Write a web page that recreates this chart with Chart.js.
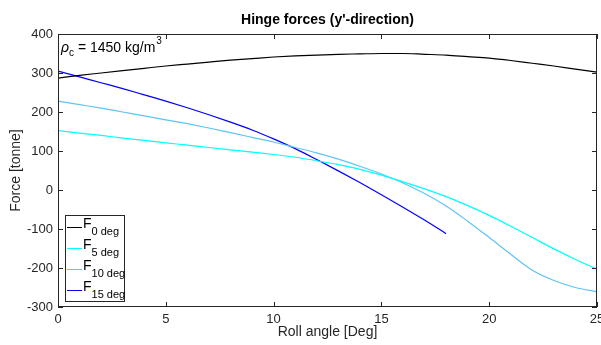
<!DOCTYPE html>
<html>
<head>
<meta charset="utf-8">
<script src="https://cdn.jsdelivr.net/npm/chart.js@4/dist/chart.umd.min.js"></script>
<style>
  html, body { margin: 0; padding: 0; background: #fff; }
  #wrap { width: 601px; height: 345px; position: relative; }
</style>
</head>
<body>
<div id="wrap"><canvas id="hinge-chart"></canvas></div>
<script>
// roll angles [deg] and hinge force series [tonne]
const angles = [0, 1, 2, 3, 4, 5, 6, 7, 8, 9, 10, 11, 12, 13, 14, 15, 16, 17, 18, 19, 20, 21, 22, 23, 24, 25];
const f0deg = [287, 294, 300, 306, 312, 318, 323, 328, 333, 337, 341, 344, 346, 348, 349, 350, 350, 348, 346, 342, 338, 332, 325, 318, 310, 302];
const f5deg = [152, 146, 140, 133, 127, 121, 115, 109, 103, 97, 91, 84, 75, 65, 53, 38, 21, 3, -17, -40, -65, -93, -122, -151, -178, -203];
const f10deg = [228, 219, 210, 200, 190, 180, 170, 159, 147, 135, 123, 109, 95, 79, 61, 41, 18, -9, -41, -80, -122, -165, -206, -232, -250, -261];
const f15deg = [305, 290, 275, 260, 244, 228, 211, 193, 174, 154, 131, 106, 78, 49, 19, -12, -44, -77, -112];

const seriesNames = ['0 deg', '5 deg', '10 deg', '15 deg'];
const seriesColors = ['#000000', '#00ffff', '#5ec4f5', '#0000ff'];
const xTicks = [0, 5, 10, 15, 20, 25];
const yTicks = [-300, -200, -100, 0, 100, 200, 300, 400];

const FONT = '"Liberation Sans", Arial, Helvetica, sans-serif';
const AXIS_COLOR = '#262626';

const toPoints = (vals) => vals.map((v, i) => ({ x: angles[i], y: v }));
const allSeries = [f0deg, f5deg, f10deg, f15deg];

// axes box, ticks, labels, title, note and legend drawn on top of chart.js scales
const decorPlugin = {
  id: 'decor',
  afterDatasetsDraw(chart) {
    const ctx = chart.ctx;
    const area = chart.chartArea;
    const xs = chart.scales.x;
    const ys = chart.scales.y;
    ctx.save();

    // box
    ctx.strokeStyle = AXIS_COLOR;
    ctx.lineWidth = 1;
    ctx.strokeRect(Math.round(area.left) + 0.5, Math.round(area.top) + 0.5,
      Math.round(area.right - area.left) - 1, Math.round(area.bottom - area.top) - 1);

    // inward ticks
    const tl = 5;
    ctx.beginPath();
    xTicks.forEach(t => {
      const px = Math.round(xs.getPixelForValue(t)) + 0.5;
      ctx.moveTo(px, area.bottom); ctx.lineTo(px, area.bottom - tl);
      ctx.moveTo(px, area.top); ctx.lineTo(px, area.top + tl);
    });
    yTicks.forEach(t => {
      const py = Math.round(ys.getPixelForValue(t)) + 0.5;
      ctx.moveTo(area.left, py); ctx.lineTo(area.left + tl, py);
      ctx.moveTo(area.right, py); ctx.lineTo(area.right - tl, py);
    });
    ctx.stroke();

    // tick labels
    ctx.fillStyle = AXIS_COLOR;
    ctx.font = '13px ' + FONT;
    ctx.textAlign = 'center';
    ctx.textBaseline = 'middle';
    xTicks.forEach(t => ctx.fillText(String(t), xs.getPixelForValue(t), area.bottom + 12));
    ctx.textAlign = 'right';
    yTicks.forEach(t => ctx.fillText(String(t), area.left - 5, ys.getPixelForValue(t)));

    // axis titles
    ctx.font = '14px ' + FONT;
    ctx.textAlign = 'center';
    ctx.fillText('Roll angle [Deg]', (area.left + area.right) / 2, area.bottom + 25);
    ctx.save();
    ctx.translate(16, (area.top + area.bottom) / 2);
    ctx.rotate(-Math.PI / 2);
    ctx.fillText('Force [tonne]', 0, 0);
    ctx.restore();

    // title
    ctx.fillStyle = '#000';
    ctx.font = 'bold 14px ' + FONT;
    ctx.fillText("Hinge forces (y'-direction)", (area.left + area.right) / 2, 20);

    // density note
    ctx.textAlign = 'left';
    ctx.textBaseline = 'alphabetic';
    let x = area.left + 3;
    const base = 52;
    ctx.font = 'italic 14px ' + FONT;
    ctx.fillText('\u03c1', x, base);
    x += ctx.measureText('\u03c1').width;
    ctx.font = '10px ' + FONT;
    ctx.fillText('c', x, base + 4);
    x += ctx.measureText('c').width;
    ctx.font = '14px ' + FONT;
    const mid = ' = 1450 kg/m';
    ctx.fillText(mid, x, base);
    x += ctx.measureText(mid).width;
    ctx.font = '10px ' + FONT;
    ctx.fillText('3', x + 1, base - 8);

    // legend
    const lx = area.left + 7, ly = 215, lw = 59, lh = 86;
    ctx.fillStyle = '#fff';
    ctx.fillRect(lx, ly, lw, lh);
    ctx.strokeStyle = AXIS_COLOR;
    ctx.strokeRect(lx + 0.5, ly + 0.5, lw, lh);
    chart.data.datasets.forEach((ds, i) => {
      const rowY = ly + 12 + i * 21;
      ctx.strokeStyle = ds.borderColor;
      ctx.beginPath();
      ctx.moveTo(lx + 2, rowY + 0.5);
      ctx.lineTo(lx + 17, rowY + 0.5);
      ctx.stroke();
      ctx.fillStyle = '#000';
      ctx.font = '14px ' + FONT;
      ctx.fillText('F', lx + 18, rowY + 1);
      const fw = ctx.measureText('F').width;
      ctx.font = '11px ' + FONT;
      ctx.fillText(seriesNames[i], lx + 18 + fw, rowY + 8);
    });

    ctx.restore();
  }
};

new Chart(document.getElementById('hinge-chart'), {
  type: 'scatter',
  data: {
    datasets: allSeries.map((vals, i) => ({
      label: 'F ' + seriesNames[i],
      data: toPoints(vals),
      showLine: true,
      borderColor: seriesColors[i],
      backgroundColor: seriesColors[i],
      borderWidth: 1.2,
      pointRadius: 0,
      cubicInterpolationMode: 'monotone'
    }))
  },
  options: {
    responsive: true,
    maintainAspectRatio: false,
    animation: false,
    devicePixelRatio: 1,
    layout: { padding: { left: 58, right: 4, top: 34, bottom: 38 } },
    plugins: {
      legend: { display: false },
      tooltip: { enabled: false }
    },
    scales: {
      x: { type: 'linear', min: 0, max: 25, display: false },
      y: { type: 'linear', min: -300, max: 400, display: false }
    }
  },
  plugins: [decorPlugin]
});
</script>
</body>
</html>
